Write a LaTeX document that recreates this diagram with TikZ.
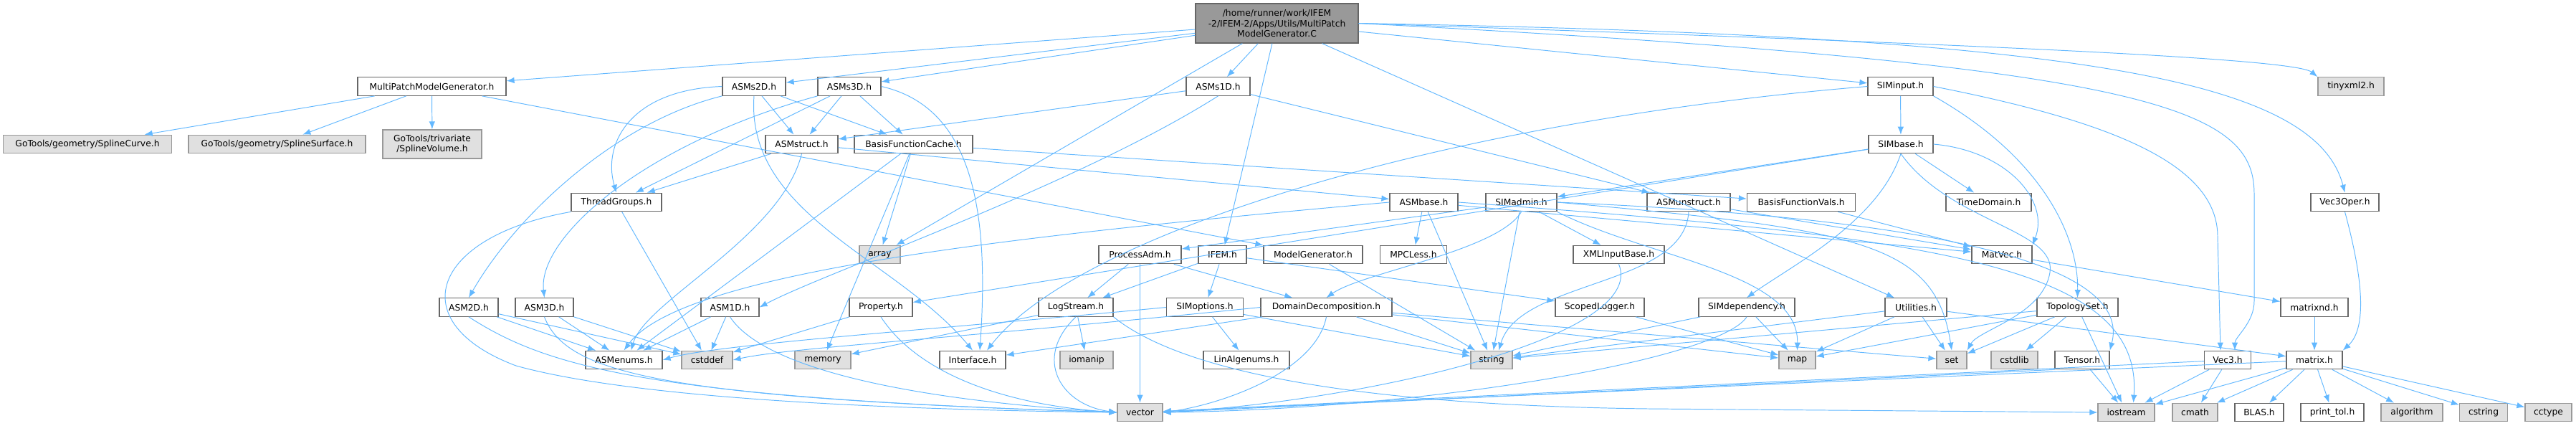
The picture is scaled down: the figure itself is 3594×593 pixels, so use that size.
\documentclass[tikz,border=0pt]{standalone}
\usepackage{fontspec}
\setmainfont{DejaVu Sans}
\usetikzlibrary{arrows.meta}

\definecolor{edgeblue}{HTML}{63B8FF}
\definecolor{boxline}{HTML}{666666}
\definecolor{sysfill}{HTML}{E0E0E0}
\definecolor{sysline}{HTML}{999999}
\definecolor{rootfill}{HTML}{999999}

\tikzset{
  hdr/.style={draw=boxline, fill=white, line width=0.7pt, inner sep=0pt,
              minimum height=0.51cm, font=\fontsize{7}{8.4}\selectfont},
  sys/.style={hdr, draw=sysline, fill=sysfill},
  dep/.style={draw=edgeblue, line width=0.55pt,
              -{Latex[length=0.22cm,width=0.17cm]}},
}

\begin{document}
\begin{tikzpicture}[x=0.02cm, y=-0.02cm]
  \useasboundingbox (0,0) rectangle (3594,593);

  % the file itself
  \node[hdr, fill=rootfill, minimum width=4.54cm, minimum height=1.10cm, align=center]
    (root) at (1781.5,32.5) {/home/runner/work/IFEM\\-2/IFEM-2/Apps/Utils/MultiPatch\\ModelGenerator.C};

  % row 1
  \node[hdr, minimum width=4.14cm] (mpmg)     at (602.5,120.5)  {MultiPatchModelGenerator.h};
  \node[hdr, minimum width=1.76cm] (asms2d)   at (1052,120.5)   {ASMs2D.h};
  \node[hdr, minimum width=1.76cm] (asms3d)   at (1185,120.5)   {ASMs3D.h};
  \node[hdr, minimum width=1.78cm] (asms1d)   at (1699.5,120.5) {ASMs1D.h};
  \node[hdr, minimum width=1.82cm] (siminput) at (2651.5,120.5) {SIMinput.h};
  \node[sys, minimum width=1.84cm] (tinyxml)  at (3280,120.5)   {tinyxml2.h};

  % row 2
  \node[sys, minimum width=4.70cm] (splcurve)  at (122,201)    {GoTools/geometry/SplineCurve.h};
  \node[sys, minimum width=4.94cm] (splsurf)   at (386.5,201)  {GoTools/geometry/SplineSurface.h};
  \node[sys, minimum width=2.76cm, minimum height=0.80cm, align=center]
    (splvol) at (603,201) {GoTools/trivariate\\/SplineVolume.h};
  \node[hdr, minimum width=2.02cm] (asmstruct) at (1118.5,201) {ASMstruct.h};
  \node[hdr, minimum width=3.30cm] (bfcache)   at (1274.5,201) {BasisFunctionCache.h};
  \node[hdr, minimum width=1.80cm] (simbase)   at (2652,201)   {SIMbase.h};

  % row 3
  \node[hdr, minimum width=2.52cm] (threadgroups) at (860,282)    {ThreadGroups.h};
  \node[hdr, minimum width=1.90cm] (asmbase)      at (1986.5,282) {ASMbase.h};
  \node[hdr, minimum width=1.98cm] (simadmin)     at (2122.5,282) {SIMadmin.h};
  \node[hdr, minimum width=2.32cm] (asmunstruct)  at (2356,282)   {ASMunstruct.h};
  \node[hdr, minimum width=3.02cm] (bfvals)       at (2513,282)   {BasisFunctionVals.h};
  \node[hdr, minimum width=2.38cm] (timedomain)   at (2774.5,282) {TimeDomain.h};
  \node[hdr, minimum width=1.90cm] (vec3oper)     at (3271.5,282) {Vec3Oper.h};

  % row 4
  \node[sys, minimum width=1.14cm] (array)      at (1227.5,355) {array};
  \node[hdr, minimum width=2.30cm] (processadm) at (1590.5,355) {ProcessAdm.h};
  \node[hdr, minimum width=1.34cm] (ifem)       at (1705.5,355) {IFEM.h};
  \node[hdr, minimum width=2.76cm] (modelgen)   at (1832,355)   {ModelGenerator.h};
  \node[hdr, minimum width=1.86cm] (mpcless)    at (1972,355)   {MPCLess.h};
  \node[hdr, minimum width=2.54cm] (xmlinput)   at (2258.5,355) {XMLInputBase.h};
  \node[hdr, minimum width=1.68cm] (matvec)     at (2793,355)   {MatVec.h};

  % row 5
  \node[hdr, minimum width=1.64cm] (asm2d)        at (654,428.5)    {ASM2D.h};
  \node[hdr, minimum width=1.62cm] (asm3d)        at (759.5,428.5)  {ASM3D.h};
  \node[hdr, minimum width=1.62cm] (asm1d)        at (1018.5,428.5) {ASM1D.h};
  \node[hdr, minimum width=1.76cm] (property)     at (1229,428.5)   {Property.h};
  \node[hdr, minimum width=2.08cm] (logstream)    at (1501,428.5)   {LogStream.h};
  \node[hdr, minimum width=2.14cm] (simoptions)   at (1681,428.5)   {SIMoptions.h};
  \node[hdr, minimum width=3.66cm] (domdec)       at (1850.5,428.5) {DomainDecomposition.h};
  \node[hdr, minimum width=2.48cm] (scopedlogger) at (2232,428.5)   {ScopedLogger.h};
  \node[hdr, minimum width=2.68cm] (simdep)       at (2437,428.5)   {SIMdependency.h};
  \node[hdr, minimum width=1.72cm] (utilities)    at (2673,428.5)   {Utilities.h};
  \node[hdr, minimum width=2.26cm] (topologyset)  at (2898.5,428.5) {TopologySet.h};
  \node[hdr, minimum width=1.88cm] (matrixnd)     at (3229,428.5)   {matrixnd.h};

  % row 6
  \node[hdr, minimum width=2.14cm] (asmenums)    at (870.5,502)  {ASMenums.h};
  \node[sys, minimum width=1.42cm] (cstddef)     at (986.5,502)  {cstddef};
  \node[sys, minimum width=1.56cm] (memory)      at (1148,502)   {memory};
  \node[hdr, minimum width=1.84cm] (interface)   at (1357,502)   {Interface.h};
  \node[sys, minimum width=1.48cm] (iomanip)     at (1516,502)   {iomanip};
  \node[hdr, minimum width=2.40cm] (linalgenums) at (1739,502)   {LinAlgenums.h};
  \node[sys, minimum width=1.16cm] (string)      at (2081,502)   {string};
  \node[sys, minimum width=1.02cm] (map)         at (2507.5,502) {map};
  \node[sys, minimum width=0.84cm] (set)         at (2723,502)   {set};
  \node[sys, minimum width=1.30cm] (cstdlib)     at (2810.5,502) {cstdlib};
  \node[hdr, minimum width=1.52cm] (tensor)      at (2905,502)   {Tensor.h};
  \node[hdr, minimum width=1.30cm] (vec3)        at (3108,502)   {Vec3.h};
  \node[hdr, minimum width=1.56cm] (matrix)      at (3229,502)   {matrix.h};

  % row 7
  \node[sys, minimum width=1.26cm] (vector)    at (1590.5,575) {vector};
  \node[sys, minimum width=1.58cm] (iostream)  at (2966.5,575) {iostream};
  \node[sys, minimum width=1.26cm] (cmath)     at (3062.5,575) {cmath};
  \node[hdr, minimum width=1.36cm] (blas)      at (3152,575)   {BLAS.h};
  \node[hdr, minimum width=1.76cm] (printtol)  at (3254,575)   {print\_tol.h};
  \node[sys, minimum width=1.72cm] (algorithm) at (3365,575)   {algorithm};
  \node[sys, minimum width=1.34cm] (cstring)   at (3465,575)   {cstring};
  \node[sys, minimum width=1.30cm] (cctype)    at (3555.5,575) {cctype};

  % includes of the file
  \draw[dep] (root) -- (mpmg);
  \draw[dep] (root) -- (asms2d);
  \draw[dep] (root) -- (asms3d);
  \draw[dep] (root) -- (asms1d);
  \draw[dep] (root) -- (array);
  \draw[dep] (root) -- (ifem);
  \draw[dep] (root) -- (utilities);
  \draw[dep] (root) -- (siminput);
  \draw[dep] (root.east) .. controls (2700,60) and (3200,80) .. (tinyxml.north west);
  \draw[dep] (root.east) .. controls (2900,50) and (3230,110) .. (vec3oper.north);
  \draw[dep] (root.east) .. controls (3000,90) and (3145,150) .. (3145,270)
    -- (3145,420) .. controls (3145,450) and (3118,470) .. ([xshift=0.2cm]vec3.north);

  % MultiPatchModelGenerator.h
  \draw[dep] (mpmg) -- (splcurve);
  \draw[dep] (mpmg) -- (splsurf);
  \draw[dep] (mpmg) -- (splvol);
  \draw[dep] (mpmg) -- (modelgen);

  % structured patches
  \draw[dep] (asms2d.west) .. controls (880,125) and (840,200) .. (threadgroups.north);
  \draw[dep] (asms2d.south west) .. controls (860,170) and (720,300) .. (asm2d.north);
  \draw[dep] (asms2d) -- (asmstruct);
  \draw[dep] (asms2d) -- (bfcache);
  \draw[dep] (asms2d.south) .. controls (1040,300) and (1250,360) .. (interface.north);
  \draw[dep] (asms3d.south west) .. controls (900,200) and (750,330) .. (asm3d.north);
  \draw[dep] (asms3d) -- (threadgroups);
  \draw[dep] (asms3d) -- (asmstruct);
  \draw[dep] (asms3d) -- (bfcache);
  \draw[dep] (asms3d.east) .. controls (1360,150) and (1380,300) .. ([xshift=0.2cm]interface.north);
  \draw[dep] (asms1d) -- (asmstruct);
  \draw[dep] (asms1d.south) .. controls (1500,260) and (1150,380) .. (asm1d.east);
  \draw[dep] (asms1d) -- (asmunstruct);
  \draw[dep] (asmstruct) -- (threadgroups);
  \draw[dep] (asmstruct) -- (asmbase);
  \draw[dep] (asmstruct.south) .. controls (1090,330) and (900,420) .. ([xshift=0.2cm]asmenums.north);
  \draw[dep] (bfcache) -- (asmenums);
  \draw[dep] (bfcache) -- (memory);
  \draw[dep] (bfcache) -- (array);
  \draw[dep] (bfcache) -- (bfvals);

  % simulator classes
  \draw[dep] (siminput) -- (simbase);
  \draw[dep] (siminput.west) .. controls (2000,170) and (1500,330) .. ([xshift=0.4cm]interface.north);
  \draw[dep] (siminput.east) .. controls (2950,170) and (3094,230) .. (3094,330)
    -- ([xshift=-0.2cm]vec3.north);
  \draw[dep] (siminput.south east) .. controls (2850,220) and (2900,330) .. (topologyset.north);
  \draw[dep] (simbase) -- (simadmin);
  \draw[dep] (simbase) -- (property);
  \draw[dep] (simbase.south) .. controls (2620,310) and (2500,370) .. (simdep.north);
  \draw[dep] (simbase.south) .. controls (2720,310) and (2870,320) .. (2860,380)
    .. controls (2850,440) and (2760,460) .. (set.north east);
  \draw[dep] (simbase) -- (timedomain);
  \draw[dep] (simbase.east) .. controls (2800,210) and (2860,280) .. (matvec.north east);
  \draw[dep] (asmbase) -- (mpcless);
  \draw[dep] (asmbase) -- (string);
  \draw[dep] (asmbase.west) .. controls (1400,330) and (950,380) .. (asmenums.north);
  \draw[dep] (asmbase) -- (matvec);
  \draw[dep] (asmbase.east) .. controls (2700,330) and (2990,370) .. ([xshift=0.2cm]iostream.north);
  \draw[dep] (simadmin) -- (processadm);
  \draw[dep] (simadmin) -- (xmlinput);
  \draw[dep] (simadmin) -- (string);
  \draw[dep] (simadmin.south) .. controls (2090,350) and (1900,380) .. (domdec.north);
  \draw[dep] (simadmin.south east) .. controls (2300,360) and (2510,380) .. (map.north);
  \draw[dep] (simadmin.east) .. controls (2600,320) and (2700,340) .. (set.north);
  \draw[dep] (simadmin.east) .. controls (2600,300) and (2980,350) .. (tensor.north east);
  \draw[dep] (asmunstruct.south) .. controls (2350,400) and (2120,390) .. ([xshift=0.2cm]string.north);
  \draw[dep] (asmunstruct) -- (matvec);
  \draw[dep] (bfvals) -- (matvec);

  % administration and logging
  \draw[dep] (processadm) -- (logstream);
  \draw[dep] (processadm) -- (vector);
  \draw[dep] (processadm) -- (domdec);
  \draw[dep] (ifem) -- (logstream);
  \draw[dep] (ifem) -- (simoptions);
  \draw[dep] (ifem) -- (scopedlogger);
  \draw[dep] (modelgen) -- (string);
  \draw[dep] (xmlinput.south) .. controls (2300,470) and (1900,560) .. (vector.east);
  \draw[dep] (property) -- (cstddef);
  \draw[dep] (property.south) .. controls (1280,520) and (1400,565) .. (vector.west);
  \draw[dep] (logstream) -- (memory);
  \draw[dep] (logstream.south) .. controls (1440,500) and (1480,565) .. (vector.west);
  \draw[dep] (logstream) -- (iomanip);
  \draw[dep] (logstream.south east) .. controls (1650,520) and (1900,565) .. (2300,570)
    -- (iostream.west);
  \draw[dep] (simoptions) -- (linalgenums);
  \draw[dep] (simoptions.west) .. controls (1300,460) and (1000,480) .. (asmenums.east);
  \draw[dep] (simoptions) -- (string);
  \draw[dep] (domdec) -- (interface);
  \draw[dep] (domdec.west) .. controls (1300,475) and (1100,485) .. (cstddef.east);
  \draw[dep] (domdec) -- (string);
  \draw[dep] (domdec) -- (map);
  \draw[dep] (domdec) -- (set);
  \draw[dep] (domdec.south) .. controls (1835,520) and (1700,565) .. (vector.east);
  \draw[dep] (scopedlogger) -- (map);
  \draw[dep] (simdep) -- (map);
  \draw[dep] (simdep) -- (string);
  \draw[dep] (simdep.south) .. controls (2400,500) and (2000,570) .. (vector.east);
  \draw[dep] (utilities) -- (string);
  \draw[dep] (utilities) -- (map);
  \draw[dep] (utilities) -- (set);
  \draw[dep] (utilities) -- (matrix);
  \draw[dep] (topologyset) -- (map);
  \draw[dep] (topologyset) -- (set);
  \draw[dep] (topologyset) -- (cstdlib);
  \draw[dep] (topologyset) -- (iostream);
  \draw[dep] (topologyset) -- (string);

  % element level headers
  \draw[dep] (asm2d) -- (asmenums);
  \draw[dep] (asm2d) -- (cstddef);
  \draw[dep] (asm2d.south) .. controls (760,510) and (900,555) .. (vector.west);
  \draw[dep] (asm3d) -- (asmenums);
  \draw[dep] (asm3d) -- (cstddef);
  \draw[dep] (asm3d.south) .. controls (790,520) and (920,555) .. (vector.west);
  \draw[dep] (asm1d) -- (asmenums);
  \draw[dep] (asm1d) -- (cstddef);
  \draw[dep] (asm1d.south) .. controls (1070,520) and (1300,560) .. (vector.west);
  \draw[dep] (threadgroups) -- (cstddef);
  \draw[dep] (threadgroups.south west) .. controls (600,330) and (560,450) .. (720,510)
    .. controls (900,560) and (1300,572) .. (vector.west);

  % linear algebra
  \draw[dep] (tensor) -- (iostream);
  \draw[dep] (tensor.south west) -- (vector.east);
  \draw[dep] (matvec) -- (matrixnd);
  \draw[dep] (vec3oper.south) .. controls (3300,400) and (3300,460) .. (matrix.north east);
  \draw[dep] (matrixnd) -- (matrix);
  \draw[dep] (vec3) -- (vector);
  \draw[dep] (vec3) -- (iostream);
  \draw[dep] (vec3) -- (cmath);
  \draw[dep] (matrix) -- (vector);
  \draw[dep] (matrix) -- (iostream);
  \draw[dep] (matrix) -- (cmath);
  \draw[dep] (matrix) -- (blas);
  \draw[dep] (matrix) -- (printtol);
  \draw[dep] (matrix) -- (algorithm);
  \draw[dep] (matrix) -- (cstring);
  \draw[dep] (matrix) -- (cctype);
\end{tikzpicture}
\end{document}
